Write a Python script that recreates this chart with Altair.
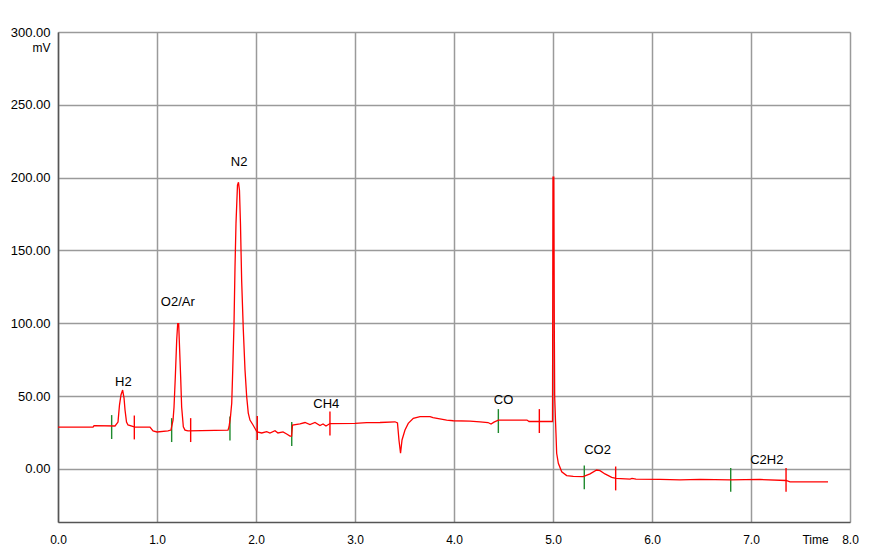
import altair as alt
import pandas as pd

# Chromatogram trace (time in min, signal in mV)
time_min = [0.000, 0.354, 0.364, 0.576, 0.606, 0.621, 0.636, 0.653, 0.667, 0.677,
            0.692, 0.707, 0.778, 0.929, 0.960, 1.000, 1.111, 1.141, 1.162, 1.172,
            1.185, 1.199, 1.209, 1.219, 1.225, 1.239, 1.249, 1.266, 1.283, 1.313,
            1.717, 1.727, 1.742, 1.755, 1.765, 1.778, 1.788, 1.798, 1.813, 1.823,
            1.833, 1.843, 1.855, 1.872, 1.889, 1.906, 1.922, 1.939, 1.970, 2.010,
            2.058, 2.108, 2.141, 2.192, 2.222, 2.273, 2.310, 2.343, 2.359, 2.369,
            2.444, 2.495, 2.545, 2.596, 2.646, 2.677, 2.707, 2.747, 3.000, 3.118,
            3.253, 3.404, 3.429, 3.444, 3.460, 3.475, 3.505, 3.538, 3.589, 3.657,
            3.758, 3.788, 3.926, 3.993, 4.162, 4.263, 4.343, 4.374, 4.404, 4.448,
            4.737, 4.758, 4.995, 5.000, 5.008, 5.013, 5.017, 5.025, 5.030, 5.037,
            5.054, 5.088, 5.138, 5.205, 5.306, 5.374, 5.441, 5.475, 5.525, 5.593,
            5.636, 5.778, 5.798, 5.838, 6.081, 6.283, 6.485, 6.788, 7.091, 7.354,
            7.394, 7.596, 7.778]
signal_mv = [28.8, 28.8, 29.8, 29.5, 32.2, 43.9, 50.8, 54.2, 48.7, 40.5,
             32.2, 30.2, 28.8, 28.8, 26.1, 25.4, 26.1, 26.7, 33.6, 42.5,
             63.1, 88.5, 99.8, 99.8, 88.5, 63.1, 42.5, 29.0, 26.7, 26.1,
             26.7, 28.8, 35.7, 45.3, 67.9, 100.1, 138.8, 168.7, 194.8, 196.8,
             191.4, 168.7, 129.6, 95.3, 67.9, 49.6, 38.4, 33.6, 30.2, 25.4,
             24.7, 25.6, 24.7, 26.3, 24.7, 25.4, 24.0, 22.6, 22.6, 30.2,
             30.9, 31.9, 30.5, 31.9, 29.8, 30.9, 29.5, 31.2, 31.3, 31.8,
             31.9, 32.4, 31.6, 19.9, 10.8, 19.9, 26.7, 31.3, 34.8, 35.9,
             35.9, 35.2, 33.6, 33.1, 32.9, 32.4, 31.9, 30.9, 32.2, 33.6,
             33.6, 32.6, 32.6, 200.3, 200.3, 100.1, 49.4, 33.6, 24.5, 10.8,
             3.9, -1.9, -4.5, -5.1, -5.3, -3.4, -0.7, -1.2, -3.4, -5.7,
             -6.5, -6.9, -6.4, -6.9, -7.2, -7.5, -7.2, -7.5, -7.2, -7.9,
             -8.9, -8.9, -8.9]

# Peak annotations
peak_names = ["H2", "O2/Ar", "N2", "CH4", "CO", "CO2", "C2H2"]
label_time = [0.66, 1.21, 1.83, 2.71, 4.50, 5.45, 7.16]
label_mv = [60.0, 114.5, 210.6, 44.6, 47.3, 13.0, 6.2]
start_time = [0.542, 1.148, 1.737, 2.361, 4.448, 5.316, 6.795]
start_mv = [28.8, 26.7, 27.8, 24.0, 32.9, -5.8, -7.5]
end_time = [0.771, 1.340, 2.013, 2.747, 4.862, 5.633, 7.354]
end_mv = [28.5, 26.7, 28.1, 31.2, 32.9, -6.5, -7.5]

x_ticks = [0, 1, 2, 3, 4, 5, 6, 7, 8]
y_ticks = [0, 50, 100, 150, 200, 250, 300]

TICK_HALF = 8.2  # half height of the integration markers, in mV

trace = pd.DataFrame({"t": time_min, "v": signal_mv, "i": list(range(len(time_min)))})
labels = pd.DataFrame({"name": peak_names, "t": label_time, "v": label_mv})
marks = pd.DataFrame({
    "t": start_time + end_time,
    "v": start_mv + end_mv,
    "kind": ["start"] * len(start_time) + ["end"] * len(end_time),
})
marks["lo"] = marks["v"] - TICK_HALF
marks["hi"] = marks["v"] + TICK_HALF

FONT = "Liberation Sans"
x_scale = alt.Scale(domain=[0, 8], nice=False, zero=False)
y_scale = alt.Scale(domain=[-36.4, 300], nice=False, zero=False)

x_axis = alt.Axis(values=x_ticks, format=".1f", title="Time", grid=True, ticks=False,
                  tickSize=0, labelPadding=12, labelBaseline="top", labelFontSize=12,
                  labelFont=FONT, labelColor="#000", labelFlush=False, labelOverlap=False,
                  titleFont=FONT, titleFontSize=12, titleFontWeight="normal", titleColor="#000",
                  titleX=757, titleY=12, titleAlign="center", titleBaseline="top",
                  domainColor="#555", domainWidth=1.5,
                  gridColor="#9a9a9a", gridWidth=1.5)
y_axis = alt.Axis(values=y_ticks, format=".2f", title="mV", grid=True, ticks=False,
                  tickSize=0, labelPadding=8, labelFontSize=13, labelFont=FONT,
                  labelColor="#000", labelFlush=False, labelOverlap=False,
                  titleFont=FONT, titleFontSize=12, titleFontWeight="normal", titleColor="#000",
                  titleAngle=0, titleX=-8, titleY=15, titleAlign="right",
                  titleBaseline="middle",
                  domainColor="#555", domainWidth=1.5,
                  gridColor="#9a9a9a", gridWidth=1.5)

line = alt.Chart(trace).mark_line(color="#ff0000", strokeWidth=1.3, clip=True).encode(
    x=alt.X("t:Q", scale=x_scale, axis=x_axis),
    y=alt.Y("v:Q", scale=y_scale, axis=y_axis),
    order="i:Q",
)

rules = alt.Chart(marks).mark_rule(strokeWidth=1.4).encode(
    x=alt.X("t:Q", scale=x_scale),
    y=alt.Y("lo:Q", scale=y_scale),
    y2="hi:Q",
    color=alt.Color("kind:N", scale=alt.Scale(domain=["start", "end"],
                                              range=["#1f8a2e", "#ff0000"]), legend=None),
)

text = alt.Chart(labels).mark_text(font=FONT, fontSize=13, color="#000",
                                   align="center", baseline="middle").encode(
    x=alt.X("t:Q", scale=x_scale),
    y=alt.Y("v:Q", scale=y_scale),
    text="name:N",
)

chart = alt.layer(rules, line, text).properties(
    width=792, height=490,
    autosize=alt.AutoSizeParams(type="none"),
    padding={"left": 50, "top": 24, "right": 12, "bottom": 28},
).configure_view(stroke="#888", strokeWidth=1.5).configure(background="white")

chart.save("out.html", embed_options={"renderer": "svg", "actions": False})
